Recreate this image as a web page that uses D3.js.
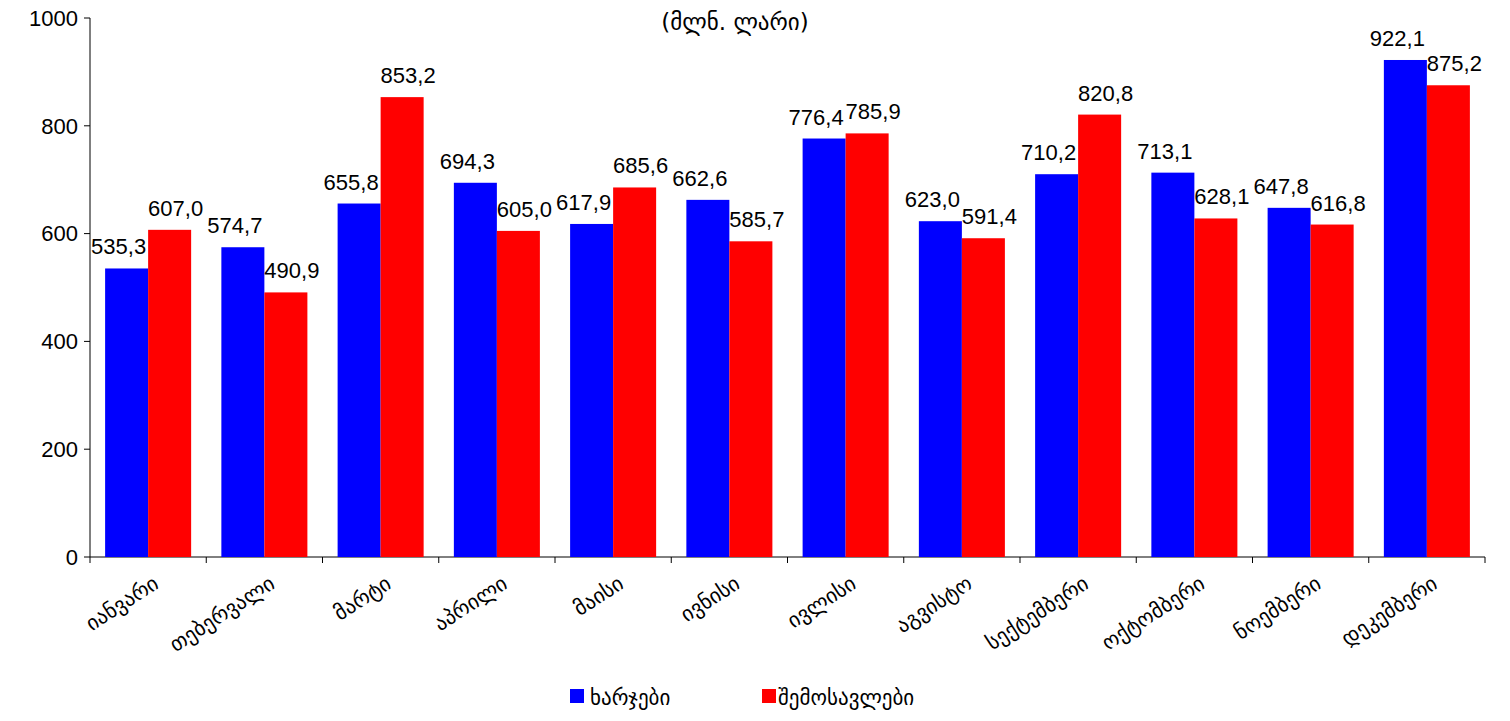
<!DOCTYPE html>
<html><head><meta charset="utf-8">
<script src="https://cdn.jsdelivr.net/npm/d3@7/dist/d3.min.js"></script>
<style>body{margin:0;background:#fff}</style></head>
<body><svg id="c" width="1510" height="721"></svg>
<script>
const months = ["იანვარი","თებერვალი","მარტი","აპრილი","მაისი","ივნისი","ივლისი","აგვისტო","სექტემბერი","ოქტომბერი","ნოემბერი","დეკემბერი"];
const expenses = [535.3,574.7,655.8,694.3,617.9,662.6,776.4,623.0,710.2,713.1,647.8,922.1];
const revenues = [607.0,490.9,853.2,605.0,685.6,585.7,785.9,591.4,820.8,628.1,616.8,875.2];
const yTicks = [0,200,400,600,800,1000];
const seriesNames = ["ხარჯები","შემოსავლები"];
const colors = ["#0000ff","#ff0000"];
const title = "(მლნ. ლარი)";

const svg = d3.select("#c");
const L=90,R=1485,T=18,B=557;
const x = d3.scaleBand().domain(months).range([L,R]).paddingInner(0.26).paddingOuter(0.13);
const y = d3.scaleLinear().domain([0,1000]).range([B,T]);
const fmt = v => v.toFixed(1).replace(".",",");
const lat = "'Liberation Sans', Arial, sans-serif", geo = "'DejaVu Sans', sans-serif";

svg.append("line").attr("x1",L).attr("x2",L).attr("y1",T).attr("y2",B).attr("stroke","#000");
svg.append("line").attr("x1",L).attr("x2",R).attr("y1",B).attr("y2",B).attr("stroke","#000");
yTicks.forEach(t=>{
  svg.append("line").attr("x1",L-6).attr("x2",L).attr("y1",y(t)).attr("y2",y(t)).attr("stroke","#000");
  svg.append("text").attr("x",L-12).attr("y",y(t)).attr("dy","0.35em").attr("text-anchor","end")
    .attr("font-family",lat).attr("font-size",22).text(t);
});
const step = (R-L)/12;
for(let i=0;i<=12;i++) svg.append("line").attr("x1",L+i*step).attr("x2",L+i*step).attr("y1",B).attr("y2",B+6).attr("stroke","#000");

const bw = x.bandwidth()/2;
[expenses,revenues].forEach((s,k)=>{
  svg.selectAll(null).data(s).enter().append("rect")
    .attr("x",(d,i)=>x(months[i])+k*bw).attr("width",bw)
    .attr("y",d=>y(d)).attr("height",d=>B-y(d)).attr("fill",colors[k]);
  svg.selectAll(null).data(s).enter().append("text")
    .attr("x",(d,i)=>x(months[i])+k*bw+bw/2 + (k===0?-8:6)).attr("y",d=>y(d)-14)
    .attr("text-anchor","middle").attr("font-family",lat).attr("font-size",22).text(fmt);
});

months.forEach(m=>{
  const cx = x(m)+x.bandwidth()/2+12;
  svg.append("text").attr("transform",`translate(${cx},${B+30}) rotate(-33)`)
    .attr("text-anchor","end").attr("font-family",geo).attr("font-size",21).text(m);
});

svg.append("text").attr("x",735).attr("y",30).attr("text-anchor","middle")
  .attr("font-family",geo).attr("font-size",23).text(title);

const lg=[[570,590],[762,778]];
seriesNames.forEach((n,k)=>{
  svg.append("rect").attr("x",lg[k][0]).attr("y",689).attr("width",14).attr("height",14).attr("fill",colors[k]);
  svg.append("text").attr("x",lg[k][1]).attr("y",705).attr("font-family",geo).attr("font-size",21).text(n);
});
</script></body></html>
